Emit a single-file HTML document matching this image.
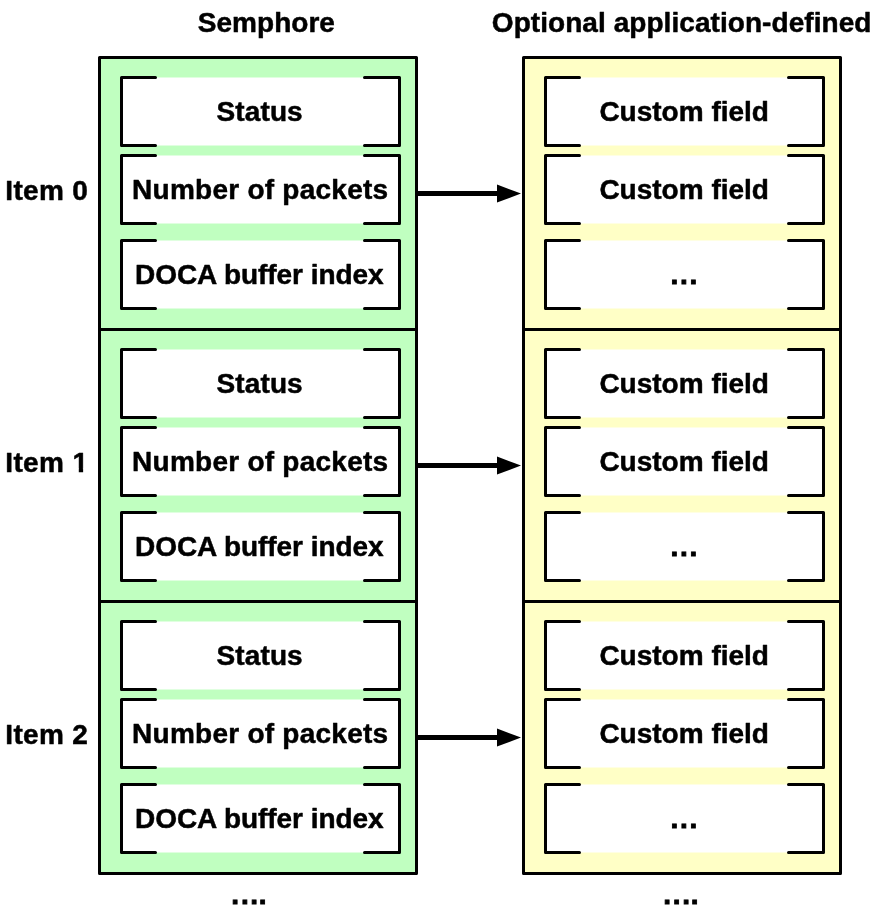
<!DOCTYPE html>
<html><head><meta charset="utf-8"><title>Semaphore layout</title>
<style>
html,body{margin:0;padding:0;background:#fff;}
svg{display:block}
text{font-family:"Liberation Sans",Arial,Helvetica,sans-serif;font-weight:bold;font-size:28px;fill:#000;stroke:#000;stroke-width:0.5px;stroke-linejoin:round}
text.d{stroke-width:0.9px;stroke-linejoin:miter}
</style></head><body>
<svg width="877" height="917" viewBox="0 0 877 917">
<defs><filter id="aa" x="0" y="0" width="877" height="917" filterUnits="userSpaceOnUse" color-interpolation-filters="sRGB"><feColorMatrix type="matrix" values="1 0 0 0 0 0 1 0 0 0 0 0 1 0 0 0 0 0 1 0"/></filter></defs>
<rect width="877" height="917" fill="#fff"/>
<rect x="99.5" y="57.5" width="317" height="816" fill="#c0ffc0" stroke="#000" stroke-width="3" stroke-linejoin="round"/>
<line x1="99.5" y1="329.5" x2="416.5" y2="329.5" stroke="#000" stroke-width="3"/>
<line x1="99.5" y1="601.5" x2="416.5" y2="601.5" stroke="#000" stroke-width="3"/>
<rect x="121.5" y="77.5" width="278" height="68" fill="#fff"/>
<path d="M155.5 77.5H121.5V145.5H155.5M364.5 77.5H399.5V145.5H364.5" fill="none" stroke="#000" stroke-width="3" stroke-linecap="round" stroke-linejoin="round"/>
<rect x="121.5" y="155.5" width="278" height="68" fill="#fff"/>
<path d="M155.5 155.5H121.5V223.5H155.5M364.5 155.5H399.5V223.5H364.5" fill="none" stroke="#000" stroke-width="3" stroke-linecap="round" stroke-linejoin="round"/>
<rect x="121.5" y="240.5" width="278" height="68" fill="#fff"/>
<path d="M155.5 240.5H121.5V308.5H155.5M364.5 240.5H399.5V308.5H364.5" fill="none" stroke="#000" stroke-width="3" stroke-linecap="round" stroke-linejoin="round"/>
<rect x="121.5" y="349.5" width="278" height="68" fill="#fff"/>
<path d="M155.5 349.5H121.5V417.5H155.5M364.5 349.5H399.5V417.5H364.5" fill="none" stroke="#000" stroke-width="3" stroke-linecap="round" stroke-linejoin="round"/>
<rect x="121.5" y="427.5" width="278" height="68" fill="#fff"/>
<path d="M155.5 427.5H121.5V495.5H155.5M364.5 427.5H399.5V495.5H364.5" fill="none" stroke="#000" stroke-width="3" stroke-linecap="round" stroke-linejoin="round"/>
<rect x="121.5" y="512.5" width="278" height="68" fill="#fff"/>
<path d="M155.5 512.5H121.5V580.5H155.5M364.5 512.5H399.5V580.5H364.5" fill="none" stroke="#000" stroke-width="3" stroke-linecap="round" stroke-linejoin="round"/>
<rect x="121.5" y="621.5" width="278" height="68" fill="#fff"/>
<path d="M155.5 621.5H121.5V689.5H155.5M364.5 621.5H399.5V689.5H364.5" fill="none" stroke="#000" stroke-width="3" stroke-linecap="round" stroke-linejoin="round"/>
<rect x="121.5" y="699.5" width="278" height="68" fill="#fff"/>
<path d="M155.5 699.5H121.5V767.5H155.5M364.5 699.5H399.5V767.5H364.5" fill="none" stroke="#000" stroke-width="3" stroke-linecap="round" stroke-linejoin="round"/>
<rect x="121.5" y="784.5" width="278" height="68" fill="#fff"/>
<path d="M155.5 784.5H121.5V852.5H155.5M364.5 784.5H399.5V852.5H364.5" fill="none" stroke="#000" stroke-width="3" stroke-linecap="round" stroke-linejoin="round"/>
<rect x="523.5" y="57.5" width="317" height="816" fill="#ffffc6" stroke="#000" stroke-width="3" stroke-linejoin="round"/>
<line x1="523.5" y1="329.5" x2="840.5" y2="329.5" stroke="#000" stroke-width="3"/>
<line x1="523.5" y1="601.5" x2="840.5" y2="601.5" stroke="#000" stroke-width="3"/>
<rect x="545.5" y="77.5" width="278" height="68" fill="#fff"/>
<path d="M579.5 77.5H545.5V145.5H579.5M788.5 77.5H823.5V145.5H788.5" fill="none" stroke="#000" stroke-width="3" stroke-linecap="round" stroke-linejoin="round"/>
<rect x="545.5" y="155.5" width="278" height="68" fill="#fff"/>
<path d="M579.5 155.5H545.5V223.5H579.5M788.5 155.5H823.5V223.5H788.5" fill="none" stroke="#000" stroke-width="3" stroke-linecap="round" stroke-linejoin="round"/>
<rect x="545.5" y="240.5" width="278" height="68" fill="#fff"/>
<path d="M579.5 240.5H545.5V308.5H579.5M788.5 240.5H823.5V308.5H788.5" fill="none" stroke="#000" stroke-width="3" stroke-linecap="round" stroke-linejoin="round"/>
<rect x="545.5" y="349.5" width="278" height="68" fill="#fff"/>
<path d="M579.5 349.5H545.5V417.5H579.5M788.5 349.5H823.5V417.5H788.5" fill="none" stroke="#000" stroke-width="3" stroke-linecap="round" stroke-linejoin="round"/>
<rect x="545.5" y="427.5" width="278" height="68" fill="#fff"/>
<path d="M579.5 427.5H545.5V495.5H579.5M788.5 427.5H823.5V495.5H788.5" fill="none" stroke="#000" stroke-width="3" stroke-linecap="round" stroke-linejoin="round"/>
<rect x="545.5" y="512.5" width="278" height="68" fill="#fff"/>
<path d="M579.5 512.5H545.5V580.5H579.5M788.5 512.5H823.5V580.5H788.5" fill="none" stroke="#000" stroke-width="3" stroke-linecap="round" stroke-linejoin="round"/>
<rect x="545.5" y="621.5" width="278" height="68" fill="#fff"/>
<path d="M579.5 621.5H545.5V689.5H579.5M788.5 621.5H823.5V689.5H788.5" fill="none" stroke="#000" stroke-width="3" stroke-linecap="round" stroke-linejoin="round"/>
<rect x="545.5" y="699.5" width="278" height="68" fill="#fff"/>
<path d="M579.5 699.5H545.5V767.5H579.5M788.5 699.5H823.5V767.5H788.5" fill="none" stroke="#000" stroke-width="3" stroke-linecap="round" stroke-linejoin="round"/>
<rect x="545.5" y="784.5" width="278" height="68" fill="#fff"/>
<path d="M579.5 784.5H545.5V852.5H579.5M788.5 784.5H823.5V852.5H788.5" fill="none" stroke="#000" stroke-width="3" stroke-linecap="round" stroke-linejoin="round"/>
<line x1="418" y1="193.5" x2="498" y2="193.5" stroke="#000" stroke-width="5"/>
<polygon points="497,184.5 497,202.5 521,193.5" fill="#000"/>
<line x1="418" y1="465.5" x2="498" y2="465.5" stroke="#000" stroke-width="5"/>
<polygon points="497,456.5 497,474.5 521,465.5" fill="#000"/>
<line x1="418" y1="737.5" x2="498" y2="737.5" stroke="#000" stroke-width="5"/>
<polygon points="497,728.5 497,746.5 521,737.5" fill="#000"/>
<g filter="url(#aa)">
<text x="216.50" y="120.5" letter-spacing="0.120">Status</text>
<text x="132.10" y="198.5" letter-spacing="0.250">Number of packets</text>
<text x="135.00" y="283.5" letter-spacing="-0.050">DOCA buffer index</text>
<text x="216.50" y="392.5" letter-spacing="0.120">Status</text>
<text x="132.10" y="470.5" letter-spacing="0.250">Number of packets</text>
<text x="135.00" y="555.5" letter-spacing="-0.050">DOCA buffer index</text>
<text x="216.50" y="664.5" letter-spacing="0.120">Status</text>
<text x="132.10" y="742.5" letter-spacing="0.250">Number of packets</text>
<text x="135.00" y="827.5" letter-spacing="-0.050">DOCA buffer index</text>
<text x="599.40" y="120.5">Custom field</text>
<text x="599.40" y="198.5">Custom field</text>
<text class="d" x="670.45 680 689.55" y="284.0">...</text>
<text x="599.40" y="392.5">Custom field</text>
<text x="599.40" y="470.5">Custom field</text>
<text class="d" x="670.45 680 689.55" y="556.0">...</text>
<text x="599.40" y="664.5">Custom field</text>
<text x="599.40" y="742.5">Custom field</text>
<text class="d" x="670.45 680 689.55" y="828.0">...</text>
<text x="5.3" y="200" letter-spacing="0.3" dx="0 0 0 0 0 0">Item 0</text>
<text x="5.3" y="472" letter-spacing="0.3" dx="0 0 0 0 0 0.4">Item 1</text>
<text x="5.3" y="744" letter-spacing="0.3" dx="0 0 0 0 0 0.1">Item 2</text>
<rect x="72" y="468.5" width="6.78" height="5" fill="#fff"/><rect x="83.13" y="468.5" width="6" height="5" fill="#fff"/>
<text x="197.80" y="31.5" letter-spacing="0.030">Semphore</text>
<text x="491.80" y="31.5" letter-spacing="0.060">Optional application-defined</text>
<text class="d" x="231.35 240.95 250.35 258.85" y="904.2">....</text>
<text class="d" x="663.35 672.85 682.25 690.75" y="904.2">....</text>
</g>
</svg>
</body></html>
